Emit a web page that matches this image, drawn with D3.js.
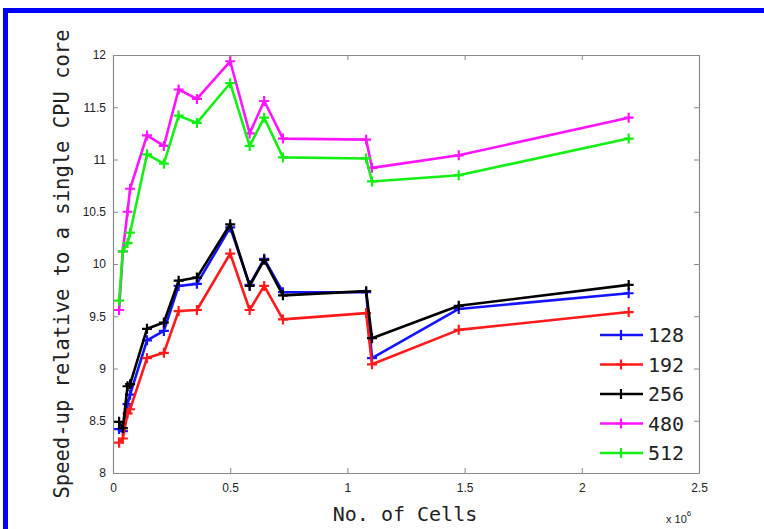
<!DOCTYPE html>
<html><head><meta charset="utf-8">
<script src="https://cdn.jsdelivr.net/npm/d3@7"></script>
<style>html,body{margin:0;padding:0;background:#fff;}svg{display:block;}</style>
</head><body>
<svg id="chart" width="764" height="529"></svg>
<script>
// Data (x in units of 1e6 cells)
const cells = [0.026, 0.042, 0.062, 0.073, 0.145, 0.217, 0.280, 0.358, 0.500, 0.583, 0.645, 0.725, 1.080, 1.105, 1.475, 2.200];
const seriesNames = ["128", "192", "256", "480", "512"];
const seriesColors = ["#1414ff", "#ff1a1a", "#000000", "#ff14ff", "#14f014"];
const s128 = [8.42, 8.40, 8.66, 8.75, 9.27, 9.36, 9.79, 9.81, 10.35, 9.80, 10.05, 9.73, 9.73, 9.10, 9.57, 9.72];
const s192 = [8.29, 8.33, 8.57, 8.61, 9.10, 9.15, 9.55, 9.56, 10.10, 9.56, 9.79, 9.47, 9.53, 9.04, 9.37, 9.54];
const s256 = [8.49, 8.43, 8.83, 8.85, 9.38, 9.44, 9.84, 9.87, 10.38, 9.79, 10.04, 9.70, 9.74, 9.29, 9.60, 9.80];
const s480 = [9.56, 10.12, 10.50, 10.72, 11.23, 11.13, 11.67, 11.58, 11.94, 11.25, 11.56, 11.20, 11.19, 10.92, 11.04, 11.40];
const s512 = [9.65, 10.12, 10.20, 10.30, 11.05, 10.96, 11.42, 11.35, 11.73, 11.13, 11.40, 11.02, 11.01, 10.79, 10.85, 11.20];
const xTicks = [0, 0.5, 1, 1.5, 2, 2.5];
const xTickLabels = ["0", "0.5", "1", "1.5", "2", "2.5"];
const yTicks = [8, 8.5, 9, 9.5, 10, 10.5, 11, 11.5, 12];
const yTickLabels = ["8", "8.5", "9", "9.5", "10", "10.5", "11", "11.5", "12"];
const xLabel = "No. of Cells";
const yLabel = "Speed-up relative to a single CPU core";

const allSeries = [s128, s192, s256, s480, s512];

const svg = d3.select("#chart");
const L = 113, R = 699, T = 55, B = 473;

// blue frame
svg.append("rect").attr("x", 5.5).attr("y", 10.5).attr("width", 800).attr("height", 600)
  .attr("fill", "#fff").attr("stroke", "#0000ff").attr("stroke-width", 5);

const x = d3.scaleLinear().domain([0, 2.5]).range([L, R]);
const y = d3.scaleLinear().domain([8, 12]).range([B, T]);

const axisColor = "#8a8a8a";
const tickFont = "Liberation Sans, Arial, sans-serif";

const gx = svg.append("g").attr("transform", `translate(0,${B})`)
  .call(d3.axisBottom(x).tickValues(xTicks).tickFormat((d, i) => xTickLabels[i]).tickSizeInner(-5).tickSizeOuter(0).tickPadding(10));
const gxt = svg.append("g").attr("transform", `translate(0,${T})`)
  .call(d3.axisTop(x).tickValues(xTicks).tickFormat("").tickSizeInner(-5).tickSizeOuter(0));
const gy = svg.append("g").attr("transform", `translate(${L},0)`)
  .call(d3.axisLeft(y).tickValues(yTicks).tickFormat((d, i) => yTickLabels[i]).tickSizeInner(-5).tickSizeOuter(0).tickPadding(7));
const gyr = svg.append("g").attr("transform", `translate(${R},0)`)
  .call(d3.axisRight(y).tickValues(yTicks).tickFormat("").tickSizeInner(-5).tickSizeOuter(0));

[gx, gxt, gy, gyr].forEach(g => {
  g.selectAll(".domain").attr("stroke", axisColor).attr("stroke-width", 1.2);
  g.selectAll(".tick line").attr("stroke", axisColor).attr("stroke-width", 1);
  g.selectAll("text").attr("font-family", tickFont).attr("font-size", 12).attr("fill", "#222");
});

const line = d3.line().x((d, i) => x(cells[i])).y(d => y(d));
const plus = (cx, cy, s) => `M${cx - s},${cy}H${cx + s}M${cx},${cy - s}V${cy + s}`;

allSeries.forEach((vals, si) => {
  const g = svg.append("g");
  g.append("path").datum(vals).attr("d", line).attr("fill", "none")
    .attr("stroke", seriesColors[si]).attr("stroke-width", 2.6).attr("stroke-linejoin", "round");
  g.selectAll("path.m").data(vals).enter().append("path").attr("class", "m")
    .attr("d", (d, i) => plus(x(cells[i]), y(d), 5))
    .attr("stroke", seriesColors[si]).attr("stroke-width", 2.2).attr("fill", "none");
});

const mono = "DejaVu Sans Mono, monospace";
const legY0 = 335, legDy = 29.5;
seriesNames.forEach((name, i) => {
  const ly = legY0 + i * legDy;
  svg.append("line").attr("x1", 600).attr("x2", 643).attr("y1", ly).attr("y2", ly)
    .attr("stroke", seriesColors[i]).attr("stroke-width", 2.6);
  svg.append("path").attr("d", plus(621, ly, 5)).attr("stroke", seriesColors[i]).attr("stroke-width", 2.2);
  svg.append("text").attr("x", 648).attr("y", ly + 7).attr("font-family", mono).attr("font-size", 20)
    .attr("fill", "#222").text(name);
});

svg.append("text").attr("x", 405).attr("y", 521).attr("text-anchor", "middle")
  .attr("font-family", mono).attr("font-size", 20).attr("fill", "#222").text(xLabel);
svg.append("text").attr("transform", `translate(69,264) rotate(-90)`).attr("text-anchor", "middle")
  .attr("font-family", mono).attr("font-size", 20.5).attr("fill", "#222").text(yLabel);

const ex = svg.append("text").attr("x", 666).attr("y", 523).attr("font-family", tickFont).attr("font-size", 11).attr("fill", "#222");
ex.append("tspan").text("x 10");
ex.append("tspan").attr("dy", -7).attr("font-size", 8).text("6");
</script>
</body></html>
